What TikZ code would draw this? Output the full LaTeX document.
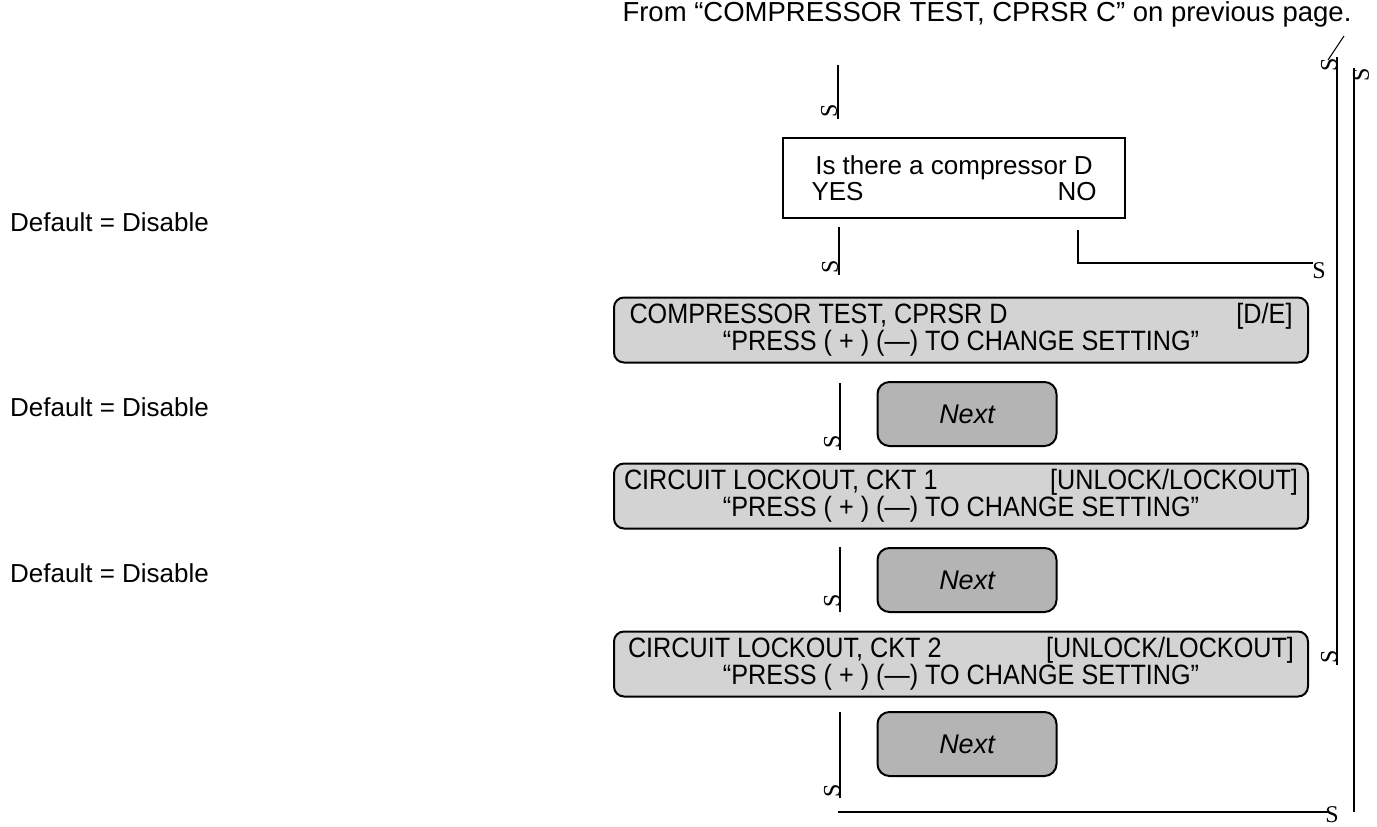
\documentclass[tikz,border=0pt]{standalone}
\usepackage{fontspec}
\setmainfont{Liberation Sans}
\newfontfamily\lcdfont[FakeStretch=0.9]{Liberation Sans}
\newfontfamily\tipfont{Liberation Serif}
\usetikzlibrary{positioning, calc}
\definecolor{lcdgray}{HTML}{D3D3D3}
\definecolor{keygray}{HTML}{B4B4B4}

\begin{document}
\begin{tikzpicture}[x=1pt,y=-1pt]
  \tikzset{lcd/.style={draw,line width=2pt,fill=lcdgray,rounded corners=10pt,minimum width=694pt,minimum height=65pt,align=center,inner sep=0pt,font=\lcdfont\fontsize{28}{26}\selectfont},
    key/.style={draw,line width=2pt,fill=keygray,rounded corners=12pt,minimum width=179pt,minimum height=64pt,font=\itshape\fontsize{27}{30}\selectfont},
    ask/.style={draw,line width=2pt,minimum width=342pt,minimum height=80pt,align=center,inner sep=0pt,font=\fontsize{26}{26}\selectfont},
    note/.style={anchor=west,inner sep=0pt,font=\fontsize{26}{30}\selectfont},
    wire/.style={line width=2.6pt},
    tip/.style={inner sep=0pt,font=\tipfont\fontsize{24}{24}\selectfont}}
  \useasboundingbox (0,0) rectangle (1377,827);
  % header and side notes
  \node[font=\fontsize{27.5}{30}\selectfont] (from) at (987,14) {From “COMPRESSOR TEST, CPRSR C” on previous page.};
  \node[note] (n1) at (10,222) {Default = Disable};
  \node[note] (n2) at (10,407) {Default = Disable};
  \node[note] (n3) at (10,573) {Default = Disable};
  % question and display boxes
  \node[ask] (q) at (954,178) {Is there a compressor D\\\makebox[285pt]{YES\hfill NO}};
  \node[lcd] (d) at (961,330) {\makebox[663pt]{COMPRESSOR TEST, CPRSR D\hfill[D/E]}\\“PRESS ( + ) (—) TO CHANGE SETTING”};
  \node[key] (k1) at (967,414) {Next};
  \node[lcd] (c1) at (961,496) {\makebox[674pt]{CIRCUIT LOCKOUT, CKT 1\hfill[UNLOCK/LOCKOUT]}\\“PRESS ( + ) (—) TO CHANGE SETTING”};
  \node[key] (k2) at (967,580) {Next};
  \node[lcd] (c2) at (961,664) {\makebox[666pt]{CIRCUIT LOCKOUT, CKT 2\hfill[UNLOCK/LOCKOUT]}\\“PRESS ( + ) (—) TO CHANGE SETTING”};
  \node[key] (k3) at (967,744) {Next};
  % free ends of the connectors
  \coordinate (a0) at (838,65);   \coordinate (a1) at (838,119);
  \coordinate (b0) at (839,227);  \coordinate (b1) at (839,275);
  \coordinate (e0) at (840,383);  \coordinate (e1) at (840,450);
  \coordinate (f0) at (840,547);  \coordinate (f1) at (840,612);
  \coordinate (g0) at (840,712);  \coordinate (g1) at (840,798);
  \coordinate (no0) at (1078,230); \coordinate (no1) at (1313,263);
  \coordinate (r0) at (1337,57);  \coordinate (r1) at (1337,665);
  \coordinate (s0) at (838,812);  \coordinate (s1) at (1328,812);
  \coordinate (s2) at (1354,812); \coordinate (s3) at (1354,68);
  \draw[wire] (a0) -- (a1);
  \draw[wire] (b0) -- (b1);
  \draw[wire] (e0) -- (e1);
  \draw[wire] (f0) -- (f1);
  \draw[wire] (g0) -- (g1);
  \draw[wire] (no0) |- (no1);
  \draw[wire] (r0) -- (r1);
  \draw[wire] (s0) -- (s1);
  \draw[wire] (s2) -- (s3);
  \draw[line width=1pt] (1328,60) -- (1344,36);
  % broken arrow glyphs
  \node[tip,rotate=90] (t1) at (829,111) {S};
  \node[tip,rotate=90] (t2) at (830,267) {S};
  \node[tip,rotate=90] (t3) at (832,442) {S};
  \node[tip,rotate=90] (t4) at (832,601) {S};
  \node[tip,rotate=90] (t5) at (832,791) {S};
  \node[tip] (t6) at (1319,271) {S};
  \node[tip,rotate=90] (t7) at (1329,65) {S};
  \node[tip,rotate=90] (t8) at (1329,657) {S};
  \node[tip,rotate=90] (t9) at (1361,75) {S};
  \node[tip] (t10) at (1332,815) {S};
\end{tikzpicture}
\end{document}
